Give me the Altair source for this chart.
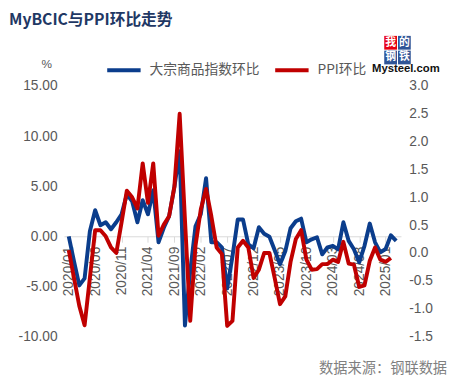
import altair as alt
import pandas as pd

# ---- data -------------------------------------------------------------
months = [f"{y}/{m:02d}" for y in range(2020, 2026) for m in range(1, 13)][:63]
tick_labels = ["2020/01", "2020/06", "2020/11", "2021/04", "2021/09", "2022/02",
               "2022/07", "2022/12", "2023/05", "2023/10", "2024/03", "2024/08", "2025/01"]

s_blue = "大宗商品指数环比"
s_red = "PPI环比"

mybcic = [0.0, -2.5, -4.9, -4.2, 0.5, 2.6, 1.1, 1.4, 0.7, 1.4,
          2.2, 4.2, 3.5, 1.4, 3.6, 2.2, 4.6, -0.6, 0.85, 2.0,
          4.9, 8.5, -8.9, -3.5, 1.0, 2.2, 5.8, -0.6, -0.6, -1.1,
          -5.2, -2.0, 1.67, 1.67, -0.8, -1.2, 0.9, 0.25, -0.05, -1.4,
          -2.8, -1.5, 0.8, 1.5, 1.76, -0.6, -0.3, -0.1, -1.8, -1.1,
          -0.95, -1.3, 1.4, -0.46, -1.3, -2.6, -0.95, 1.27, -0.6, -1.6,
          -1.27, 0.1, -0.46]

ppi = [0.05, -0.45, -0.95, -1.3, -0.45, 0.41, 0.41, 0.3, 0.1, 0.0,
       0.55, 1.12, 1.0, 0.8, 1.61, 0.9, 1.61, 0.31, 0.51, 0.66,
       1.19, 2.5, 0.6, -1.22, 0.13, 0.78, 1.15, 0.66, 0.1, -0.02,
       -1.31, -1.22, 0.1, 0.22, 0.1, -0.45, -0.3, 0.0, 0.0, -0.45,
       -0.92, -0.78, -0.16, 0.25, 0.41, -0.12, -0.3, -0.29, -0.2, -0.2,
       -0.12, -0.16, 0.2, -0.19, -0.21, -0.61, -0.58, -0.14, 0.1, -0.12,
       -0.16, -0.09]

left_ticks = [-10, -5, 0, 5, 10, 15]
right_ticks = [-1.5, -1.0, -0.5, 0.0, 0.5, 1.0, 1.5, 2.0, 2.5, 3.0]

BLUE = "#0B3D8C"
RED = "#C00000"
GRAY = "#595959"

df_blue = pd.DataFrame({"idx": range(len(mybcic)), "month": months[:len(mybcic)],
                        "value": mybcic, "series": s_blue})
df_red = pd.DataFrame({"idx": range(len(ppi)), "month": months[:len(ppi)],
                       "value": ppi, "series": s_red})

tick_idx = [months.index(t) for t in tick_labels]
label_arr = "[" + ",".join(f"'{t}'" for t in tick_labels) + "]"

x_scale = alt.Scale(domain=[-0.9, 62.9], nice=False, zero=False)
x_axis = alt.Axis(orient="bottom", offset=-102, values=tick_idx,
                  labelExpr=f"{label_arr}[round(datum.value/5)]",
                  labelAngle=-90, labelFontSize=14, labelColor=GRAY,
                  labelFont="Liberation Sans", labelPadding=4,
                  tickSize=6, tickColor="#D9D9D9", domainColor="#D9D9D9",
                  domainWidth=1, grid=False, title=None)
color = alt.Color("series:N",
                  scale=alt.Scale(domain=[s_blue, s_red], range=[BLUE, RED]),
                  legend=alt.Legend(orient="none", legendX=42, legendY=-35,
                                    direction="horizontal", title=None,
                                    symbolType="stroke", symbolSize=1156,
                                    symbolStrokeWidth=4, labelFontSize=14,
                                    labelColor=GRAY, labelFont="Noto Sans CJK SC",
                                    labelOffset=7, columnPadding=8))

blue = alt.Chart(df_blue).mark_line(strokeWidth=4, strokeJoin="round").encode(
    x=alt.X("idx:Q", scale=x_scale, axis=x_axis),
    y=alt.Y("value:Q", scale=alt.Scale(domain=[-10, 15], nice=False, zero=False),
            axis=alt.Axis(orient="left", values=left_ticks, format=".2f",
                          labelExpr="replace(datum.label, '\u2212', '-')",
                          labelFontSize=14, labelColor=GRAY, labelFont="Liberation Sans",
                          labelPadding=7, domain=False, ticks=False, grid=False,
                          title="%", titleAngle=0, titleX=-18, titleY=-23,
                          titleAlign="center", titleBaseline="middle",
                          titleFontSize=12, titleFontWeight="normal", titleColor=GRAY)),
    color=color,
    order="idx:Q",
)

red = alt.Chart(df_red).mark_line(strokeWidth=4, strokeJoin="round").encode(
    x=alt.X("idx:Q", scale=x_scale, axis=x_axis),
    y=alt.Y("value:Q", scale=alt.Scale(domain=[-1.5, 3.0], nice=False, zero=False),
            axis=alt.Axis(orient="right", values=right_ticks, format=".1f",
                          labelExpr="replace(datum.label, '\u2212', '-')",
                          labelFontSize=14, labelColor=GRAY, labelFont="Liberation Sans",
                          labelPadding=8, domain=False, ticks=False, grid=False,
                          title=None)),
    color=color,
    order="idx:Q",
)

# ---- annotations -------------------------------------------------------
def text_layer(txt, x, y, **kw):
    return alt.Chart(pd.DataFrame({"t": [txt]})).mark_text(**kw).encode(
        text="t:N", x=alt.value(x), y=alt.value(y))

def box_layer(x1, x2, y1, y2, fill):
    return alt.Chart(pd.DataFrame({"t": [0]})).mark_rect(fill=fill).encode(
        x=alt.value(x1), x2=alt.value(x2), y=alt.value(y1), y2=alt.value(y2))

title = text_layer("MyBCIC与PPI环比走势", -56, -67, align="left", baseline="middle",
                   font="Noto Sans CJK SC", fontSize=16, fontWeight="bold", color="#1F3864")
source = text_layer("数据来源：钢联数据", 390, 288, align="right", baseline="middle",
                    font="Noto Sans CJK SC", fontSize=14.5, color="#7F7F7F")

logo = [
    box_layer(326, 339, -51, -37, "#E60012"),
    box_layer(340, 353, -51, -37, "#2F5597"),
    box_layer(326, 339, -36, -22, "#2F5597"),
    box_layer(340, 353, -36, -22, "#2F5597"),
    text_layer("我", 332.5, -44, align="center", baseline="middle", font="Noto Sans CJK SC",
               fontSize=11, fontWeight="bold", color="white"),
    text_layer("的", 346.5, -44, align="center", baseline="middle", font="Noto Sans CJK SC",
               fontSize=11, fontWeight="bold", color="white"),
    text_layer("钢", 332.5, -29, align="center", baseline="middle", font="Noto Sans CJK SC",
               fontSize=11, fontWeight="bold", color="white"),
    text_layer("铁", 346.5, -29, align="center", baseline="middle", font="Noto Sans CJK SC",
               fontSize=11, fontWeight="bold", color="white"),
    text_layer("Mysteel.com", 348, -17, align="center", baseline="middle",
               font="Liberation Sans", fontSize=11.5, fontWeight="bold", color="#111111"),
]

chart = alt.layer(blue, red, title, source, *logo).resolve_scale(
    y="independent"
).properties(
    width=343, height=255,
    autosize=alt.AutoSizeParams(type="none"),
    padding={"left": 57, "top": 76, "right": 53, "bottom": 46},
).configure_view(stroke=None)

chart.save("out.html", embed_options={"renderer": "svg", "actions": False})
